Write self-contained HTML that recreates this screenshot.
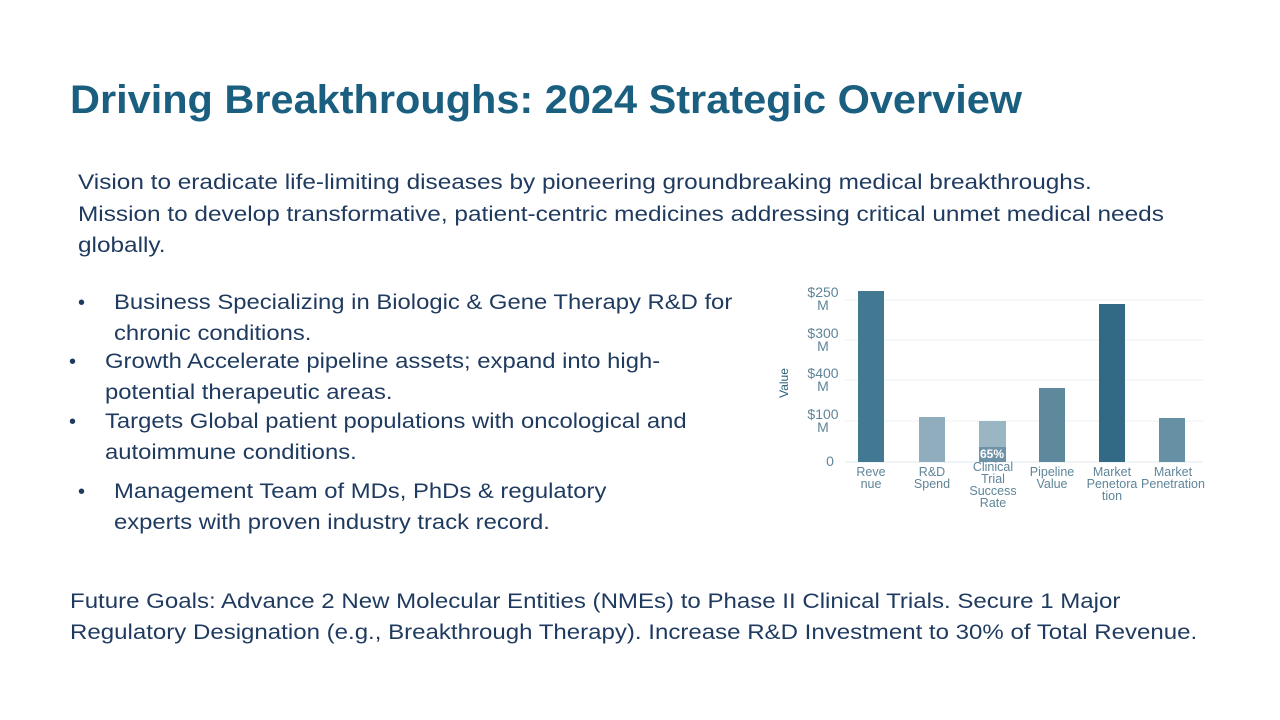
<!DOCTYPE html>
<html><head><meta charset="utf-8"><style>
body{margin:0;width:1280px;height:720px;background:#fff;position:relative;overflow:hidden;font-family:"Liberation Sans",sans-serif;color:#1f3a5f}
.l{position:absolute;white-space:nowrap;font-size:21px;line-height:24px;transform-origin:0 50%;transform:scaleX(1.16)}
.s{transform:scaleX(1.135)}
.f{transform:scaleX(1.145)}
.t{position:absolute;left:70px;top:76px;font-size:40px;line-height:48px;font-weight:bold;color:#1a5f80;white-space:nowrap;transform-origin:0 50%;transform:scaleX(1.037)}
.b{position:absolute;font-size:20px;line-height:24px}
</style></head><body>
<div class="t">Driving Breakthroughs: 2024 Strategic Overview</div>
<div class="l" style="left:78px;top:171px">Vision to eradicate life-limiting diseases by pioneering groundbreaking medical breakthroughs.</div>
<div class="l" style="left:78px;top:203px">Mission to develop transformative, patient-centric medicines addressing critical unmet medical needs</div>
<div class="l" style="left:78px;top:234px">globally.</div>

<div class="b" style="left:78px;top:291px">•</div>
<div class="l s" style="left:114px;top:291px">Business Specializing in Biologic &amp; Gene Therapy R&amp;D for</div>
<div class="l s" style="left:114px;top:322px">chronic conditions.</div>
<div class="b" style="left:69px;top:350px">•</div>
<div class="l s" style="left:105px;top:350px">Growth Accelerate pipeline assets; expand into high-</div>
<div class="l s" style="left:105px;top:381px">potential therapeutic areas.</div>
<div class="b" style="left:69px;top:410px">•</div>
<div class="l s" style="left:105px;top:410px">Targets Global patient populations with oncological and</div>
<div class="l s" style="left:105px;top:441px">autoimmune conditions.</div>
<div class="b" style="left:78px;top:480px">•</div>
<div class="l s" style="left:114px;top:480px">Management Team of MDs, PhDs &amp; regulatory</div>
<div class="l s" style="left:114px;top:511px">experts with proven industry track record.</div>

<div class="l f" style="left:70px;top:590px">Future Goals: Advance 2 New Molecular Entities (NMEs) to Phase II Clinical Trials. Secure 1 Major</div>
<div class="l f" style="left:70px;top:621px">Regulatory Designation (e.g., Breakthrough Therapy). Increase R&amp;D Investment to 30% of Total Revenue.</div>

<svg style="position:absolute;left:0;top:0" width="1280" height="720" font-family="Liberation Sans, sans-serif">
<g stroke="#eef2f5" stroke-width="1">
<line x1="845" x2="1203" y1="300" y2="300"/><line x1="845" x2="1203" y1="340" y2="340"/>
<line x1="845" x2="1203" y1="380" y2="380"/><line x1="845" x2="1203" y1="421" y2="421"/>
<line x1="845" x2="1203" y1="462" y2="462" stroke="#e3e8ec"/>
</g>
<g fill="#5f8599" font-size="14" text-anchor="middle">
<text x="823" y="297">$250</text><text x="823" y="310">M</text>
<text x="823" y="338">$300</text><text x="823" y="351">M</text>
<text x="823" y="378">$400</text><text x="823" y="391">M</text>
<text x="823" y="419">$100</text><text x="823" y="432">M</text>
<text x="830" y="466">0</text>
<text transform="translate(788,383) rotate(-90)" font-size="12" fill="#2f5f7a">Value</text>
</g>
<rect x="858" y="291" width="26" height="171" fill="#437892"/>
<rect x="919" y="417" width="26" height="45" fill="#8fadbd"/>
<rect x="979" y="421" width="27" height="41" fill="#9ab6c3"/>
<rect x="979" y="447" width="27" height="15" fill="#6f93a6"/>
<text x="992" y="458" font-size="12" font-weight="bold" fill="#fff" text-anchor="middle">65%</text>
<rect x="1039" y="388" width="26" height="74" fill="#5e889c"/>
<rect x="1099" y="304" width="26" height="158" fill="#326a85"/>
<rect x="1159" y="418" width="26" height="44" fill="#6690a4"/>
<g fill="#5f8599" font-size="12.5" text-anchor="middle">
<text x="871" y="476">Reve</text><text x="871" y="488">nue</text>
<text x="932" y="476">R&amp;D</text><text x="932" y="488">Spend</text>
<text x="993" y="471">Clinical</text><text x="993" y="483">Trial</text><text x="993" y="495">Success</text><text x="993" y="507">Rate</text>
<text x="1052" y="476">Pipeline</text><text x="1052" y="488">Value</text>
<text x="1112" y="476">Market</text><text x="1112" y="488">Penetora</text><text x="1112" y="500">tion</text>
<text x="1173" y="476">Market</text><text x="1173" y="488">Penetration</text>
</g>
</svg>
</body></html>
